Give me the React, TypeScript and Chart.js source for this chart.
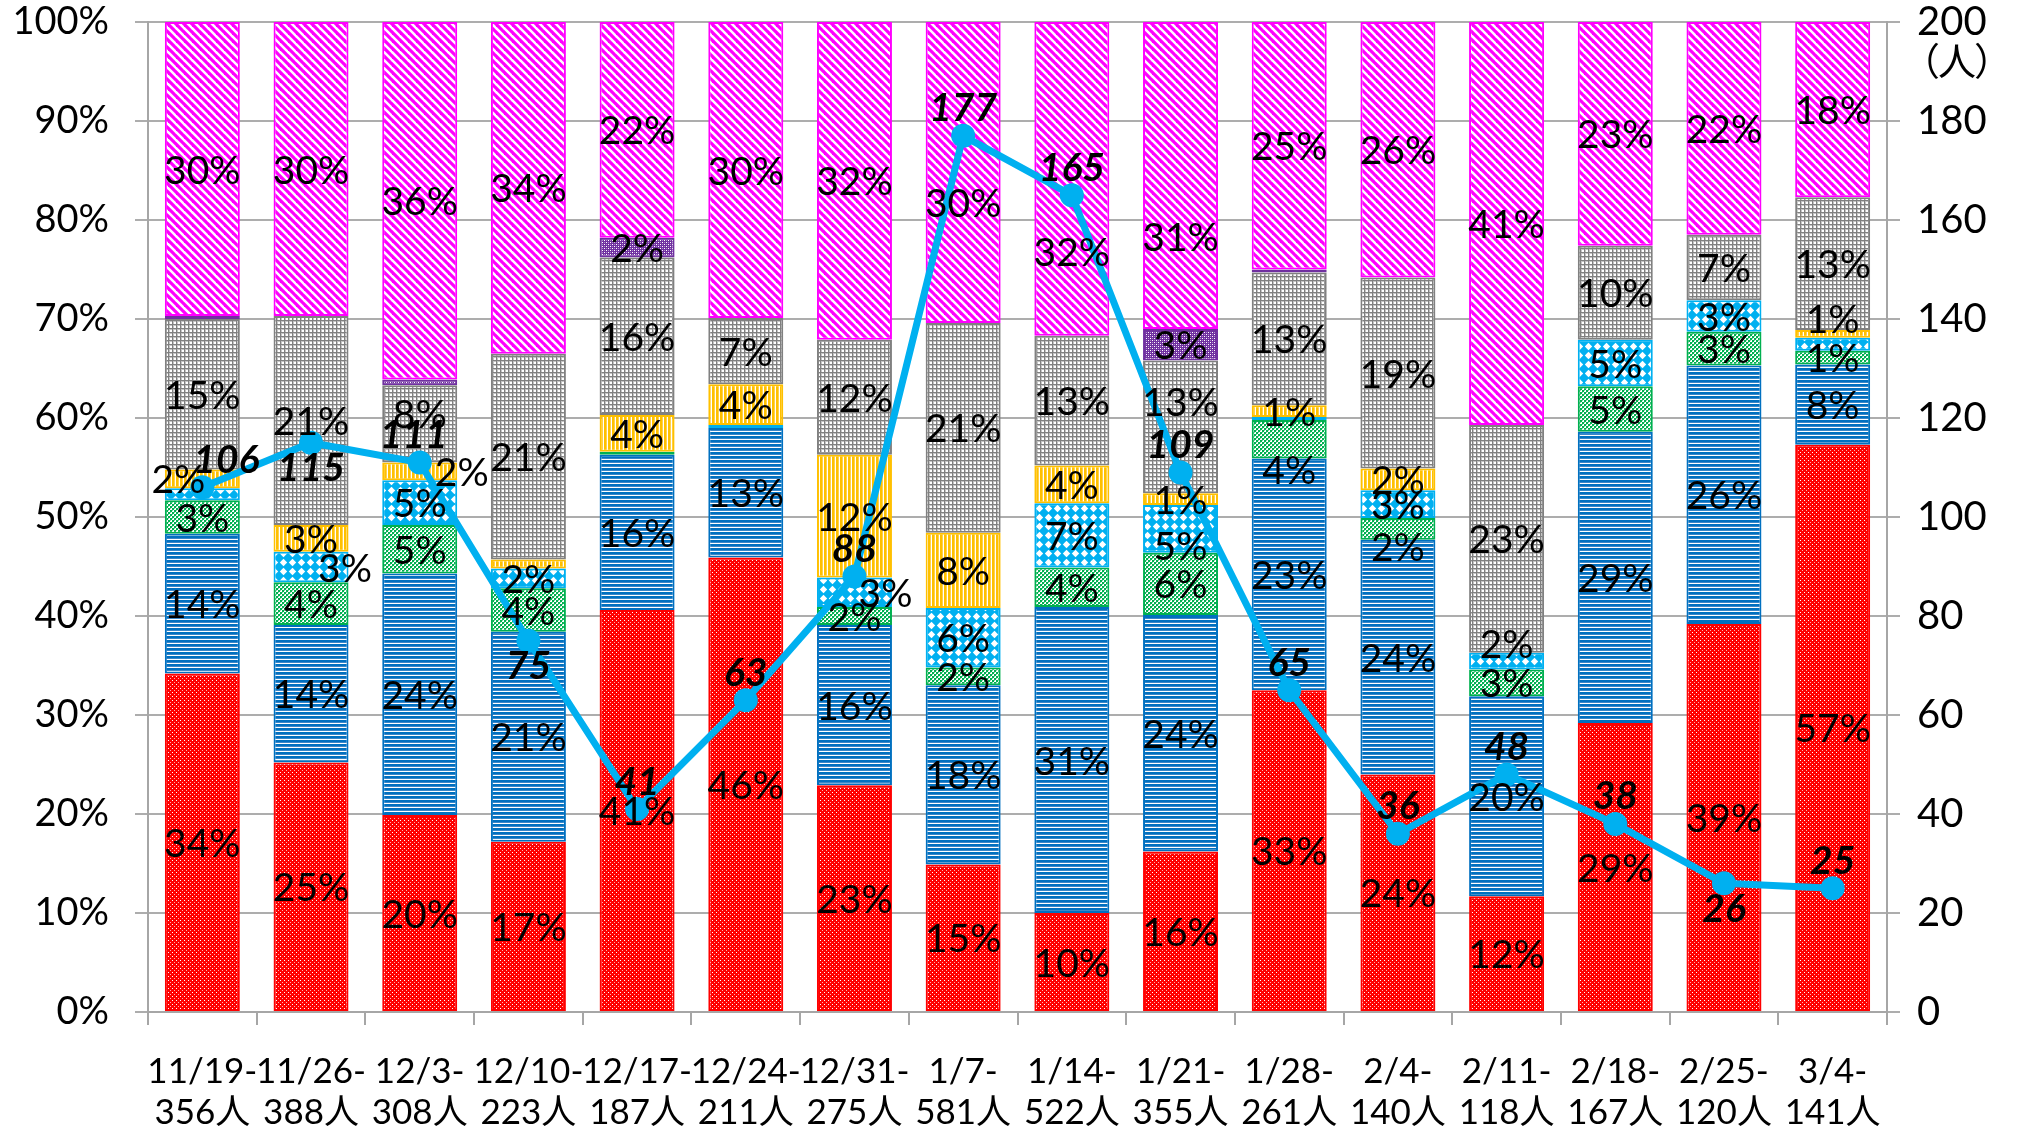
import React, { useEffect, useRef } from "react";
import { Chart, registerables } from "chart.js";

Chart.register(...registerables);

const FONT = "Lato, 'Noto Sans CJK JP', sans-serif";

// Categories (two-line tick labels)
const periods = ["11/19-", "11/26-", "12/3-", "12/10-", "12/17-", "12/24-", "12/31-", "1/7-", "1/14-", "1/21-", "1/28-", "2/4-", "2/11-", "2/18-", "2/25-", "3/4-"];
const totals = ["356人", "388人", "308人", "223人", "187人", "211人", "275人", "581人", "522人", "355人", "261人", "140人", "118人", "167人", "120人", "141人"];

// Stacked share series (%), bottom to top
const seriesNames = ["区分1", "区分2", "区分3", "区分4", "区分5", "区分6", "区分7", "区分8"];
const redShare = [34.2, 25.2, 19.9, 17.2, 40.6, 45.9, 22.9, 14.9, 10.0, 16.2, 32.5, 24.0, 11.7, 29.2, 39.2, 57.3];
const blueShare = [14.1, 13.9, 24.4, 21.2, 15.7, 13.1, 16.2, 18.1, 30.9, 23.9, 23.4, 23.7, 20.2, 29.4, 26.1, 8.1];
const greenShare = [3.4, 4.3, 4.9, 4.4, 0.3, 0, 1.8, 1.8, 4.0, 6.3, 3.9, 2.2, 2.7, 4.6, 3.4, 1.4];
const lightBlueShare = [1.2, 3.1, 4.5, 2.0, 0, 0.3, 3.0, 6.0, 6.5, 4.8, 0.3, 2.8, 1.7, 4.7, 3.2, 1.3];
const yellowShare = [1.9, 2.7, 1.8, 0.9, 3.7, 4.1, 12.4, 7.6, 3.8, 1.2, 1.2, 2.2, 0, 0, 0, 0.8];
const grayShare = [15.2, 21.1, 7.8, 20.8, 15.9, 6.7, 11.6, 21.2, 13.1, 13.4, 13.4, 19.3, 23.0, 9.5, 6.6, 13.4];
const purpleShare = [0.3, 0, 0.6, 0, 2.0, 0, 0, 0, 0, 3.2, 0.3, 0, 0, 0, 0, 0];
const magentaShare = [29.7, 29.7, 36.1, 33.5, 21.8, 29.9, 32.1, 30.4, 31.7, 31.0, 25.0, 25.8, 40.7, 22.6, 21.5, 17.7];

// Weekly count (right axis, 人)
const weeklyCount = [106, 115, 111, 75, 41, 63, 88, 177, 165, 109, 65, 36, 48, 38, 26, 25];

// Tick labels
const leftTicks = [0, 10, 20, 30, 40, 50, 60, 70, 80, 90, 100];
const rightTicks = [0, 20, 40, 60, 80, 100, 120, 140, 160, 180, 200];
const rightUnit = ["（", "人", "）"];

// Labels not shown in the reference: [series, category]
const hiddenLabels = [[3, 0], [6, 2], [4, 3], [3, 15]];
// Hand-moved labels in the reference: [series, category, dx (px), dy (percentage points)]
const movedLabels = [
  [7, 7, 0, -3],
  [7, 8, 0, -7.3],
  [7, 9, 0, -6.2],
  [5, 9, 0, 2.6],
  [5, 2, 0, 1.1],
  [2, 10, 0, -3],
  [3, 9, 0, -1.7],
  [3, 12, 0, 1.8],
  [2, 11, 0, -1.8],
  [4, 15, 0, 1.6],
  [4, 0, -24, 0],
  [3, 1, 34, 0],
  [4, 2, 42, 0],
  [3, 6, 31, 0],
];
// Line value labels shown under the point, and hand-moved ones [index, dx]
const lineLabelsBelow = [1, 3, 14];
const lineLabelsMoved = [[0, 24], [2, -6]];

const COLORS = {
  red: "#FF0000",
  blue: "#0070C0",
  green: "#00B050",
  lightBlue: "#00B0F0",
  yellow: "#FFC000",
  gray: "#808080",
  purple: "#7030A0",
  magenta: "#FF00FF",
};

function makeTile(w: number, h: number, draw: (g: CanvasRenderingContext2D) => void) {
  const c = document.createElement("canvas");
  c.width = w;
  c.height = h;
  const g = c.getContext("2d")!;
  draw(g);
  return c;
}

function buildPatterns(ctx: CanvasRenderingContext2D) {
  const pat = (c: HTMLCanvasElement) => ctx.createPattern(c, "repeat")!;
  const red = makeTile(4, 4, (g) => {
    g.fillStyle = COLORS.red;
    g.fillRect(0, 0, 4, 4);
    g.fillStyle = "#fff";
    g.fillRect(0, 0, 1, 1);
    g.fillStyle = "#ffb0b0";
    g.fillRect(2, 2, 1, 1);
  });
  const blue = makeTile(4, 4, (g) => {
    g.fillStyle = "#fff";
    g.fillRect(0, 0, 4, 4);
    g.fillStyle = COLORS.blue;
    g.fillRect(0, 0, 4, 2);
    g.fillStyle = "#3a86c8";
    g.fillRect(0, 2, 4, 1);
  });
  const green = makeTile(4, 4, (g) => {
    g.fillStyle = "#fff";
    g.fillRect(0, 0, 4, 4);
    g.fillStyle = COLORS.green;
    g.fillRect(0, 0, 2, 2);
    g.fillRect(2, 2, 2, 2);
    g.fillStyle = "#7fd7a7";
    g.fillRect(2, 0, 1, 1);
    g.fillRect(0, 2, 1, 1);
  });
  const lightBlue = makeTile(9, 9, (g) => {
    g.fillStyle = COLORS.lightBlue;
    g.fillRect(0, 0, 9, 9);
    g.fillStyle = "#fff";
    g.beginPath();
    g.moveTo(4.5, 0.8);
    g.lineTo(8.2, 4.5);
    g.lineTo(4.5, 8.2);
    g.lineTo(0.8, 4.5);
    g.closePath();
    g.fill();
  });
  const yellow = makeTile(4, 4, (g) => {
    g.fillStyle = "#fff";
    g.fillRect(0, 0, 4, 4);
    g.fillStyle = COLORS.yellow;
    g.fillRect(0, 0, 2, 4);
    g.fillStyle = "#ffd24d";
    g.fillRect(2, 0, 1, 4);
  });
  const gray = makeTile(4, 4, (g) => {
    g.fillStyle = "#fff";
    g.fillRect(0, 0, 4, 4);
    g.fillStyle = "#c4c4c4";
    g.fillRect(0, 1, 4, 1);
    g.fillRect(1, 0, 1, 4);
    g.fillStyle = COLORS.gray;
    g.fillRect(0, 0, 4, 1);
    g.fillRect(0, 0, 1, 4);
  });
  const purple = makeTile(4, 4, (g) => {
    g.fillStyle = COLORS.purple;
    g.fillRect(0, 0, 4, 4);
    g.fillStyle = "#fff";
    g.fillRect(0, 0, 1, 1);
    g.fillRect(2, 2, 1, 1);
    g.fillStyle = "#b08ccc";
    g.fillRect(2, 0, 1, 1);
    g.fillRect(0, 2, 1, 1);
  });
  const magenta = makeTile(8, 8, (g) => {
    g.fillStyle = "#fff";
    g.fillRect(0, 0, 8, 8);
    g.strokeStyle = COLORS.magenta;
    g.lineWidth = 3.2;
    for (const k of [-8, 0, 8]) {
      g.beginPath();
      g.moveTo(k - 2, -2);
      g.lineTo(k + 10, 10);
      g.stroke();
    }
  });
  return {
    red: pat(red),
    blue: pat(blue),
    green: pat(green),
    lightBlue: pat(lightBlue),
    yellow: pat(yellow),
    gray: pat(gray),
    purple: pat(purple),
    magenta: pat(magenta),
  };
}

const shareSeries = [
  { key: "red", values: redShare },
  { key: "blue", values: blueShare },
  { key: "green", values: greenShare },
  { key: "lightBlue", values: lightBlueShare },
  { key: "yellow", values: yellowShare },
  { key: "gray", values: grayShare },
  { key: "purple", values: purpleShare },
  { key: "magenta", values: magentaShare },
] as const;

const labelPlugin = {
  id: "valueLabels",
  afterDatasetsDraw(chart: any) {
    const ctx: CanvasRenderingContext2D = chart.ctx;
    const yScale = chart.scales.y;
    const pxPerPct = (yScale.getPixelForValue(0) - yScale.getPixelForValue(100)) / 100;
    ctx.save();
    ctx.fillStyle = "#000";
    ctx.textAlign = "center";
    ctx.textBaseline = "middle";
    ctx.font = `39px ${FONT}`;
    shareSeries.forEach((s, di) => {
      const meta = chart.getDatasetMeta(di);
      s.values.forEach((v, i) => {
        const r = Math.round(v);
        if (r < 1) return;
        if (hiddenLabels.some(([a, b]) => a === di && b === i)) return;
        const mv = movedLabels.find(([a, b]) => a === di && b === i);
        const dx = mv ? mv[2] : 0;
        const dy = mv ? -mv[3] * pxPerPct : 0;
        const el = meta.data[i];
        const p = el.getProps(["x", "y", "base"], true);
        ctx.fillText(r + "%", p.x + dx, (p.y + p.base) / 2 + 2 + dy);
      });
    });
    const lineIndex = shareSeries.length;
    const lm = chart.getDatasetMeta(lineIndex);
    ctx.font = `italic bold 39px ${FONT}`;
    weeklyCount.forEach((v, i) => {
      const el = lm.data[i];
      const p = el.getProps(["x", "y"], true);
      const below = lineLabelsBelow.includes(i);
      const mv = lineLabelsMoved.find(([a]) => a === i);
      ctx.fillText(String(v), p.x + (mv ? mv[1] : 0), p.y + (below ? 26 : -27));
    });
    ctx.restore();
  },
  afterDraw(chart: any) {
    const ctx: CanvasRenderingContext2D = chart.ctx;
    const y2 = chart.scales.y2;
    ctx.save();
    ctx.fillStyle = "#000";
    ctx.textAlign = "center";
    ctx.textBaseline = "middle";
    ctx.font = `38px 'Noto Sans CJK JP', ${FONT}`;
    const cx = chart.chartArea.right + 70;
    const cy = y2.getPixelForValue(rightTicks[rightTicks.length - 1]) + 39;
    ctx.fillText(rightUnit[0], cx - 36, cy);
    ctx.fillText(rightUnit[1], cx, cy);
    ctx.fillText(rightUnit[2], cx + 36, cy);
    ctx.restore();
  },
};

export default function App() {
  const canvasRef = useRef<HTMLCanvasElement | null>(null);

  useEffect(() => {
    const canvas = canvasRef.current!;
    const ctx = canvas.getContext("2d")!;
    const patterns: any = buildPatterns(ctx);

    const barDatasets = shareSeries.map((s, i) => ({
      type: "bar" as const,
      label: seriesNames[i],
      data: s.values,
      backgroundColor: patterns[s.key],
      borderColor: (COLORS as any)[s.key],
      borderWidth: 2,
      borderSkipped: false,
      yAxisID: "y",
      stack: "share",
      order: 2,
      barPercentage: 0.69,
      categoryPercentage: 1.0,
    }));

    const chart = new Chart(canvas, {
      type: "bar",
      data: {
        labels: periods.map((p, i) => [p, totals[i]]),
        datasets: [
          ...barDatasets,
          {
            type: "line" as const,
            label: "人数",
            data: weeklyCount,
            yAxisID: "y2",
            borderColor: COLORS.lightBlue,
            backgroundColor: COLORS.lightBlue,
            borderWidth: 7,
            pointRadius: 12,
            pointBackgroundColor: COLORS.lightBlue,
            pointBorderWidth: 0,
            tension: 0,
            order: 0,
          } as any,
        ],
      },
      options: {
        responsive: false,
        animation: false,
        devicePixelRatio: 1,
        layout: { padding: 0, autoPadding: false },
        font: { family: FONT, size: 34 },
        plugins: {
          legend: { display: false },
          tooltip: { enabled: false },
        },
        scales: {
          x: {
            stacked: true,
            offset: true,
            grid: {
              offset: true,
              drawOnChartArea: false,
              drawTicks: true,
              tickLength: 13,
              color: "#a6a6a6",
              lineWidth: 2,
            },
            border: { color: "#a6a6a6", width: 2 },
            ticks: {
              color: "#000",
              font: { family: FONT, size: 35, lineHeight: 1.18 },
              padding: 26,
              maxRotation: 0,
              autoSkip: false,
            },
            afterFit(scale: any) {
              scale.height = 119;
              scale.paddingLeft = 0;
              scale.paddingRight = 0;
            },
          },
          y: {
            stacked: true,
            position: "left",
            min: 0,
            max: 100,
            afterBuildTicks(scale: any) {
              scale.ticks = leftTicks.map((v) => ({ value: v }));
            },
            grid: {
              color: "#adadad",
              lineWidth: 2,
              drawTicks: true,
              tickLength: 13,
            },
            border: { color: "#a6a6a6", width: 2 },
            ticks: {
              color: "#000",
              font: { family: FONT, size: 38, lineHeight: 1.15 },
              padding: 26,
              callback: (v: any) => v + "%",
            },
            afterFit(scale: any) {
              scale.width = 148;
              scale.paddingTop = 22;
              scale.paddingBottom = 0;
            },
          },
          y2: {
            stacked: false,
            position: "right",
            min: 0,
            max: 200,
            afterBuildTicks(scale: any) {
              scale.ticks = rightTicks.map((v) => ({ value: v }));
            },
            grid: {
              drawOnChartArea: false,
              drawTicks: true,
              tickLength: 13,
              color: "#adadad",
              lineWidth: 2,
            },
            border: { color: "#a6a6a6", width: 2 },
            ticks: {
              color: "#000",
              font: { family: FONT, size: 40, lineHeight: 1.1 },
              padding: 17,
            },
            afterFit(scale: any) {
              scale.width = 130;
              scale.paddingTop = 22;
              scale.paddingBottom = 0;
            },
          },
        },
      } as any,
      plugins: [labelPlugin],
    });

    return () => {
      chart.destroy();
    };
  }, []);

  return (
    <div style={{ position: "absolute", left: 0, top: 0, width: 2017, height: 1131, background: "#fff" }}>
      <canvas ref={canvasRef} width={2017} height={1131} />
    </div>
  );
}
